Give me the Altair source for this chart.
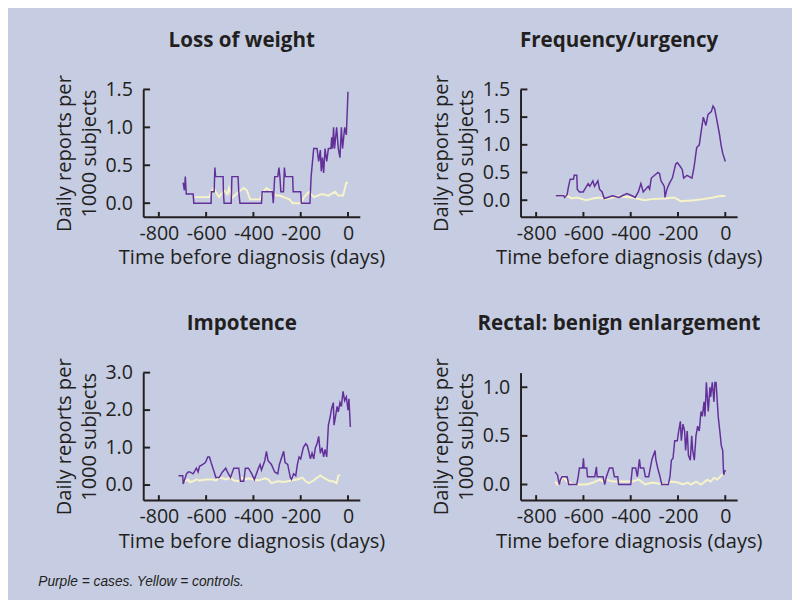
import altair as alt
import pandas as pd

PURPLE = "#63309a"
YELLOW = "#f6f4c8"
INK = "#231f20"
BG = "#c6cde3"

X_TICKS = [-800, -600, -400, -200, 0]

# ---- Loss of weight ----
lw_case_day = [-697, -692, -688, -684, -655, -652, -579, -578, -566, -563, -560, -528, -527, -524,
               -494, -491, -465, -462, -457, -366, -363, -320, -316, -310, -297, -292, -288, -284,
               -273, -269, -265, -234, -232, -200, -197, -161, -156, -145, -131, -124, -117, -113,
               -108, -103, -97, -90, -83, -72, -69, -65, -61, -57, -48, -41, -34, -28, -23, -14, -7, 0]
lw_case_val = [0.27, 0.17, 0.35, 0.12, 0.12, 0.0, 0.0, 0.15, 0.15, 0.47, 0.35, 0.35, 0.15, 0.0,
               0.0, 0.35, 0.35, 0.15, 0.0, 0.0, 0.15, 0.15, 0.0, 0.35, 0.35, 0.47, 0.35, 0.15,
               0.15, 0.47, 0.35, 0.35, 0.15, 0.15, 0.0, 0.0, 0.35, 0.72, 0.72, 0.55, 0.7, 0.42,
               0.6, 0.4, 0.72, 0.55, 0.72, 0.72, 0.87, 0.72, 1.0, 0.72, 1.0, 0.72, 0.6, 1.0, 0.72, 1.0, 0.9, 1.47]
lw_ctrl_day = [-648, -586, -579, -568, -560, -545, -524, -510, -503, -490, -462, -441, -428, -414,
               -372, -359, -345, -331, -303, -290, -248, -234, -200, -186, -165, -145, -110, -83,
               -55, -41, -21, -7, 0]
lw_ctrl_val = [0.08, 0.08, 0.15, 0.2, 0.15, 0.08, 0.17, 0.12, 0.2, 0.07, 0.15, 0.2, 0.17, 0.05,
               0.05, 0.15, 0.2, 0.17, 0.1, 0.1, 0.05, 0.0, 0.0, 0.08, 0.15, 0.08, 0.12, 0.1,
               0.15, 0.1, 0.1, 0.27, 0.27]

# ---- Frequency/urgency ----
fu_case_day = [-717, -683, -680, -669, -663, -656, -642, -639, -628, -626, -617, -601, -594, -587,
               -580, -573, -560, -553, -539, -532, -521, -512, -498, -477, -450, -436, -416, -395,
               -381, -368, -357, -347, -326, -320, -313, -299, -285, -278, -272, -265, -258, -255,
               -247, -237, -224, -210, -203, -189, -182, -176, -162, -141, -132, -121, -110, -100,
               -93, -82, -73, -59, -52, -45, -38, -25, -18, -11, 0]
fu_case_val = [0.08, 0.08, 0.05, 0.1, 0.25, 0.38, 0.38, 0.45, 0.45, 0.2, 0.15, 0.15, 0.2, 0.25,
               0.3, 0.25, 0.35, 0.25, 0.35, 0.2, 0.15, 0.03, 0.05, 0.08, 0.05, 0.08, 0.12, 0.08,
               0.05, 0.15, 0.3, 0.15, 0.25, 0.2, 0.4, 0.45, 0.5, 0.48, 0.35, 0.3, 0.25, 0.05,
               0.2, 0.3, 0.4, 0.65, 0.68, 0.6, 0.55, 0.4, 0.45, 0.4, 0.6, 0.95, 1.0, 1.3,
               1.5, 1.35, 1.55, 1.6, 1.7, 1.65, 1.5, 1.2, 1.0, 0.85, 0.7]
fu_ctrl_day = [-717, -669, -649, -628, -587, -560, -532, -505, -477, -450, -395, -340, -313, -258,
               -217, -203, -189, -162, -134, -93, -52, -18, 0]
fu_ctrl_val = [0.07, 0.08, 0.03, 0.05, 0.0, 0.03, 0.05, 0.02, 0.05, 0.07, 0.05, 0.0, 0.02, 0.03,
               0.05, 0.02, -0.02, -0.01, 0.0, 0.02, 0.05, 0.08, 0.07]

# ---- Impotence ----
im_case_day = [-717, -699, -697, -683, -676, -669, -655, -641, -634, -628, -614, -603, -593, -586,
               -579, -566, -559, -545, -531, -517, -510, -497, -483, -462, -455, -441, -434, -421,
               -407, -396, -379, -372, -366, -352, -345, -338, -324, -310, -297, -290, -280, -272,
               -266, -255, -244, -239, -230, -221, -214, -207, -200, -189, -179, -172, -166, -159,
               -152, -145, -138, -131, -124, -117, -110, -103, -97, -90, -83, -76, -69, -62, -59,
               -51, -46, -41, -34, -28, -21, -14, -7, 0, 4, 10]
im_case_val = [0.25, 0.25, 0.03, 0.3, 0.35, 0.35, 0.3, 0.45, 0.35, 0.5, 0.55, 0.6, 0.75, 0.75,
               0.6, 0.35, 0.2, 0.2, 0.35, 0.45, 0.35, 0.2, 0.45, 0.45, 0.1, 0.1, 0.45, 0.45,
               0.3, 0.15, 0.45, 0.55, 0.4, 0.65, 0.9, 0.65, 0.55, 0.35, 0.3, 0.55, 0.75, 0.9,
               0.6, 0.55, 0.2, 0.15, 0.3, 0.25, 0.55, 0.75, 0.7, 1.0, 1.1, 1.05, 0.9, 0.7,
               0.85, 0.7, 1.0, 1.1, 1.3, 0.85, 1.0, 0.75, 0.95, 0.75, 1.6, 1.8, 2.05, 2.2, 1.6,
               1.9, 2.1, 1.95, 2.2, 2.1, 2.5, 2.25, 2.35, 2.0, 2.3, 1.55]
im_ctrl_day = [-690, -676, -669, -655, -641, -628, -600, -572, -559, -545, -531, -517, -497, -483,
               -462, -448, -434, -421, -400, -379, -352, -338, -324, -297, -269, -241, -214, -193,
               -179, -166, -145, -131, -117, -103, -90, -76, -62, -48, -41, -34]
im_ctrl_val = [0.1, 0.15, 0.08, 0.1, 0.15, 0.12, 0.15, 0.15, 0.12, 0.2, 0.18, 0.15, 0.2, 0.12,
               0.1, 0.2, 0.15, 0.18, 0.15, 0.12, 0.18, 0.15, 0.05, 0.1, 0.08, 0.12, 0.15, 0.2,
               0.1, 0.05, 0.12, 0.2, 0.25, 0.2, 0.15, 0.1, 0.1, 0.05, 0.25, 0.27]

# ---- Rectal: benign enlargement ----
re_case_day = [-720, -710, -706, -702, -697, -690, -669, -662, -628, -621, -617, -603, -600, -597,
               -586, -583, -552, -545, -542, -517, -510, -503, -490, -476, -469, -455, -451, -400,
               -393, -379, -372, -363, -359, -345, -338, -324, -317, -310, -297, -294, -286, -276,
               -269, -241, -234, -228, -221, -214, -203, -197, -190, -186, -179, -172, -168, -161,
               -156, -148, -142, -138, -131, -124, -117, -110, -103, -97, -90, -86, -80, -76, -72,
               -65, -62, -55, -48, -44, -39, -30, -21, -17, -11, -7, 0]
re_case_val = [0.13, 0.1, 0.05, 0.0, 0.05, 0.08, 0.08, 0.0, 0.0, 0.1, 0.17, 0.17, 0.27, 0.17,
               0.17, 0.08, 0.08, 0.18, 0.08, 0.08, 0.0, 0.08, 0.17, 0.17, 0.08, 0.08, 0.0, 0.0,
               0.17, 0.17, 0.08, 0.26, 0.17, 0.17, 0.08, 0.08, 0.17, 0.26, 0.35, 0.26, 0.17, 0.08,
               0.0, 0.0, 0.08, 0.25, 0.27, 0.45, 0.45, 0.55, 0.65, 0.45, 0.62, 0.55, 0.35, 0.55,
               0.3, 0.25, 0.5, 0.35, 0.25, 0.5, 0.6, 0.55, 0.75, 0.7, 0.85, 0.7, 1.05, 0.9, 0.75,
               1.0, 0.9, 1.05, 0.85, 1.05, 1.05, 0.7, 0.5, 0.4, 0.35, 0.1, 0.15]
re_ctrl_day = [-720, -710, -697, -686, -669, -641, -586, -559, -531, -517, -503, -476, -421, -393,
               -366, -338, -310, -255, -228, -200, -179, -159, -145, -124, -103, -76, -62, -48,
               -34, -14, 0]
re_ctrl_val = [0.03, 0.0, 0.03, 0.08, 0.03, 0.0, 0.0, 0.02, 0.05, 0.03, 0.05, 0.03, 0.03, 0.03,
               0.05, 0.0, 0.02, 0.0, 0.03, 0.02, 0.0, 0.02, 0.0, 0.03, 0.0, 0.05, 0.03, 0.07,
               0.05, 0.1, 0.13]

W, H = 221, 130
FONT = "Open Sans"


def panel(title, cd, cv, kd, kv, ydomain, yticks, label_expr=None):
    case = pd.DataFrame({"day": cd, "value": cv, "i": range(len(cd))})
    ctrl = pd.DataFrame({"day": kd, "value": kv, "i": range(len(kd))})
    xt = pd.DataFrame({"t": X_TICKS})
    yt = pd.DataFrame({"t": yticks})

    xscale = alt.Scale(domain=[-866, 50], nice=False, zero=False)
    yscale = alt.Scale(domain=ydomain, nice=False, zero=False)
    yaxis_kw = dict(values=yticks, format=".1f", ticks=False, grid=False,
                    title=["Daily reports per", "1000 subjects"], labelPadding=11,
                    titlePadding=6)
    if label_expr:
        yaxis_kw["labelExpr"] = label_expr
    xaxis = alt.Axis(values=X_TICKS, ticks=False, grid=False, labelExpr="'' + datum.value",
                     title="Time before diagnosis (days)", labelPadding=7, titlePadding=5)
    yaxis = alt.Axis(**yaxis_kw)

    X = alt.X("day:Q", scale=xscale, axis=xaxis)
    Y = alt.Y("value:Q", scale=yscale, axis=yaxis)

    l_ctrl = alt.Chart(ctrl).mark_line(color=YELLOW, strokeWidth=2).encode(
        x=X, y=Y, order="i:Q")
    l_case = alt.Chart(case).mark_line(color=PURPLE, strokeWidth=1.5).encode(
        x=X, y=Y, order="i:Q")
    yticks_rule = alt.Chart(yt).mark_rule(color=INK, strokeWidth=2).encode(
        y=alt.Y("t:Q", scale=yscale, axis=yaxis), x=alt.value(0), x2=alt.value(7))
    xticks_rule = alt.Chart(xt).mark_rule(color=INK, strokeWidth=2).encode(
        x=alt.X("t:Q", scale=xscale, axis=xaxis), y=alt.value(H), y2=alt.value(H - 5))

    return alt.layer(l_ctrl, l_case, yticks_rule, xticks_rule).properties(
        width=W, height=H,
        title=alt.TitleParams(text=title, fontSize=21, fontWeight="bold", font=FONT,
                              color=INK, anchor="middle", frame="group", offset=24, dx=-10),
    )


p1 = panel("Loss of weight", lw_case_day, lw_case_val, lw_ctrl_day, lw_ctrl_val,
           [-0.18, 1.5], [0, 0.5, 1.0, 1.5])
p2 = panel("Frequency/urgency", fu_case_day, fu_case_val, fu_ctrl_day, fu_ctrl_val,
           [-0.3, 2.0], [0, 0.5, 1.0, 1.5, 2.0],
           label_expr="datum.value == 2 ? '1.5' : format(datum.value, '.1f')")
p3 = panel("Impotence", im_case_day, im_case_val, im_ctrl_day, im_ctrl_val,
           [-0.4, 3.0], [0, 1.0, 2.0, 3.0])
p4 = panel("Rectal: benign enlargement", re_case_day, re_case_val, re_ctrl_day, re_ctrl_val,
           [-0.16, 1.15], [0, 0.5, 1.0])

chart = alt.concat(
    p1, p2, p3, p4, columns=2, bounds="flush",
    spacing=alt.RowColnumber(row=159, column=164),
).properties(
    title=alt.TitleParams(text="Purple = cases. Yellow = controls.", orient="bottom",
                          anchor="start", font="Liberation Sans", fontSize=14,
                          fontStyle="italic", fontWeight="normal", color=INK,
                          offset=24, dx=-17),
    background=BG,
    padding={"left": 30, "top": 16, "right": 30, "bottom": 10},
).configure_view(stroke=None).configure_axis(
    domainColor=INK, domainWidth=2, labelColor=INK, titleColor=INK,
    labelFont=FONT, titleFont=FONT, labelFontSize=20, titleFontSize=20.5,
    titleFontWeight="normal", titleLineHeight=25,
)

chart.save("out.html", embed_options={"renderer": "svg", "actions": False})
